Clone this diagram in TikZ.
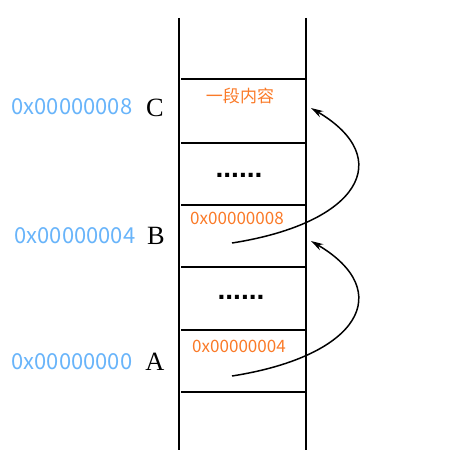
\documentclass[tikz,border=0pt]{standalone}
\usepackage{fontspec}
\setmainfont{Liberation Serif}
\newfontfamily\cjk{Noto Sans CJK SC}
\newfontfamily\dotfont{Liberation Sans}
\definecolor{AddrBlue}{RGB}{104, 180, 250}
\definecolor{CellOrange}{RGB}{250, 122, 40}
\usetikzlibrary{arrows.meta, positioning}

\begin{document}
\begin{tikzpicture}[x=0.02cm, y=-0.02cm]
        % --- Styles ---
        \tikzstyle{addr}=[font=\cjk\fontsize{12.5}{13}\selectfont, text=AddrBlue, inner sep=0pt]
        \tikzstyle{cell}=[font=\cjk\fontsize{9.7}{10}\selectfont, text=CellOrange, inner sep=0pt]
        \tikzstyle{tag}=[font=\fontsize{15}{16}\selectfont, inner sep=0pt]
        \tikzstyle{gap}=[font=\dotfont\bfseries\fontsize{16}{16}\selectfont, inner sep=0pt, anchor=base]
        \tikzstyle{ptr}=[-{Stealth[length=7pt, width=4pt]}, line width=0.85pt]

        \useasboundingbox (0,0) rectangle (450,475);

        % --- 1. Memory column ---
        \draw[line width=0.85pt] (179,18) -- (179,450);
        \draw[line width=0.85pt] (306,18) -- (306,450);
        \draw[line width=1.7pt] (181,79) -- (306,79);
        \draw[line width=1.1pt] (181,143) -- (306,143);
        \draw[line width=1.1pt] (181,205) -- (306,205);
        \draw[line width=1.1pt] (181,267) -- (306,267);
        \draw[line width=1.7pt] (181,330) -- (306,330);
        \draw[line width=1.1pt] (181,392) -- (306,392);

        % --- 2. Cell contents ---
        \node[cell] (content) at (240,96) {一段内容};
        \node[gap] (dotsC) at (239,178) {......};
        \node[cell] (valB) at (237,218) {0x00000008};
        \node[gap] (dotsB) at (241,299) {......};
        \node[cell] (valA) at (239,346) {0x00000004};

        % --- 3. Addresses ---
        \node[addr] (addrC) at (72,107) {0x00000008};
        \node[tag] (C) at (155,108) {C};
        \node[addr] (addrB) at (75,236) {0x00000004};
        \node[tag] (B) at (156,236) {B};
        \node[addr] (addrA) at (72,362) {0x00000000};
        \node[tag] (A) at (155,362) {A};

        % --- 4. Pointers ---
        \coordinate (fromB) at (232,243);
        \coordinate (toC) at (311,108);
        \coordinate (fromA) at (232,376);
        \coordinate (toB) at (311,241);
        \draw[ptr] (fromB) .. controls +(128,-20) and +(85,50) .. (toC);
        \draw[ptr] (fromA) .. controls +(128,-20) and +(85,50) .. (toB);

    \end{tikzpicture}
\end{document}
